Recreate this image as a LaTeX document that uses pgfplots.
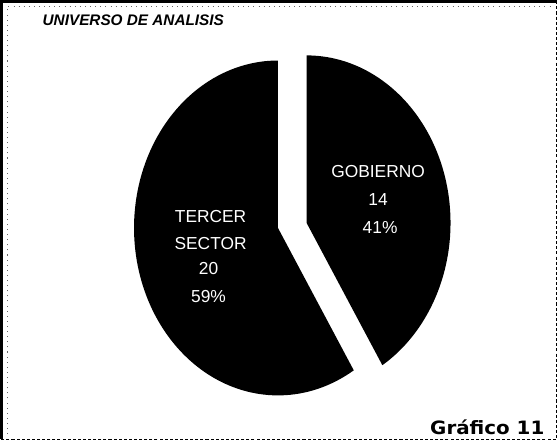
\documentclass[border=0pt]{standalone}
\usepackage{pgfplots}
\pgfplotsset{compat=1.18}
\usepackage{fontspec}
\setmainfont{Liberation Sans}
\newfontfamily\dejavu{DejaVu Sans}
% data
\def\vGob{14}
\def\vTer{20}
\begin{document}
\begin{tikzpicture}
\pgfmathsetmacro{\aG}{360*\vGob/(\vGob+\vTer)}
\begin{axis}[
  scale only axis, width=558pt, height=445pt,
  xmin=0, xmax=558, ymin=0, ymax=445, y dir=reverse,
  hide axis, clip=false]
% frame
\addplot[black, line width=2.5pt] coordinates {(6,440) (6,11) (550,11)};
\addplot[black, line width=1pt, dash pattern=on 3pt off 2pt] coordinates {(550,11) (550,440) (6,440)};
\addplot[black!60, line width=1pt, dash pattern=on 1pt off 4pt] coordinates {(12,435) (12,16) (545,16)};
% GOBIERNO slice (exploded)
\addplot[fill=black, draw=none, domain=0:\aG, samples=90, variable=\t]
  ({305+141*sin(\t)}, {228-164*cos(\t)}) -- (axis cs:305,228) -- cycle;
% TERCER SECTOR slice
\addplot[fill=black, draw=none, domain=\aG:360, samples=120, variable=\t]
  ({277+141*sin(\t)}, {233-164*cos(\t)}) -- (axis cs:277,233) -- cycle;
% title
\node[anchor=west, font=\fontsize{15}{18}\selectfont\bfseries\itshape] at (axis cs:43,30) {UNIVERSO DE ANALISIS};
% labels
\begin{scope}[every node/.style={anchor=base, text=white, font=\fontsize{17}{20}\selectfont}]
\node at (axis cs:375,184) {GOBIERNO};
\node at (axis cs:375,211) {14};
\node at (axis cs:377,238) {41\%};
\node at (axis cs:211,228) {TERCER};
\node at (axis cs:211,254) {SECTOR};
\node at (axis cs:209,279) {20};
\node at (axis cs:209,306) {59\%};
\end{scope}
\node[anchor=base, font=\dejavu\fontsize{18}{20}\selectfont\bfseries, xscale=1.08] at (axis cs:482,435) {Gráfico 11};
\end{axis}
\end{tikzpicture}
\end{document}
